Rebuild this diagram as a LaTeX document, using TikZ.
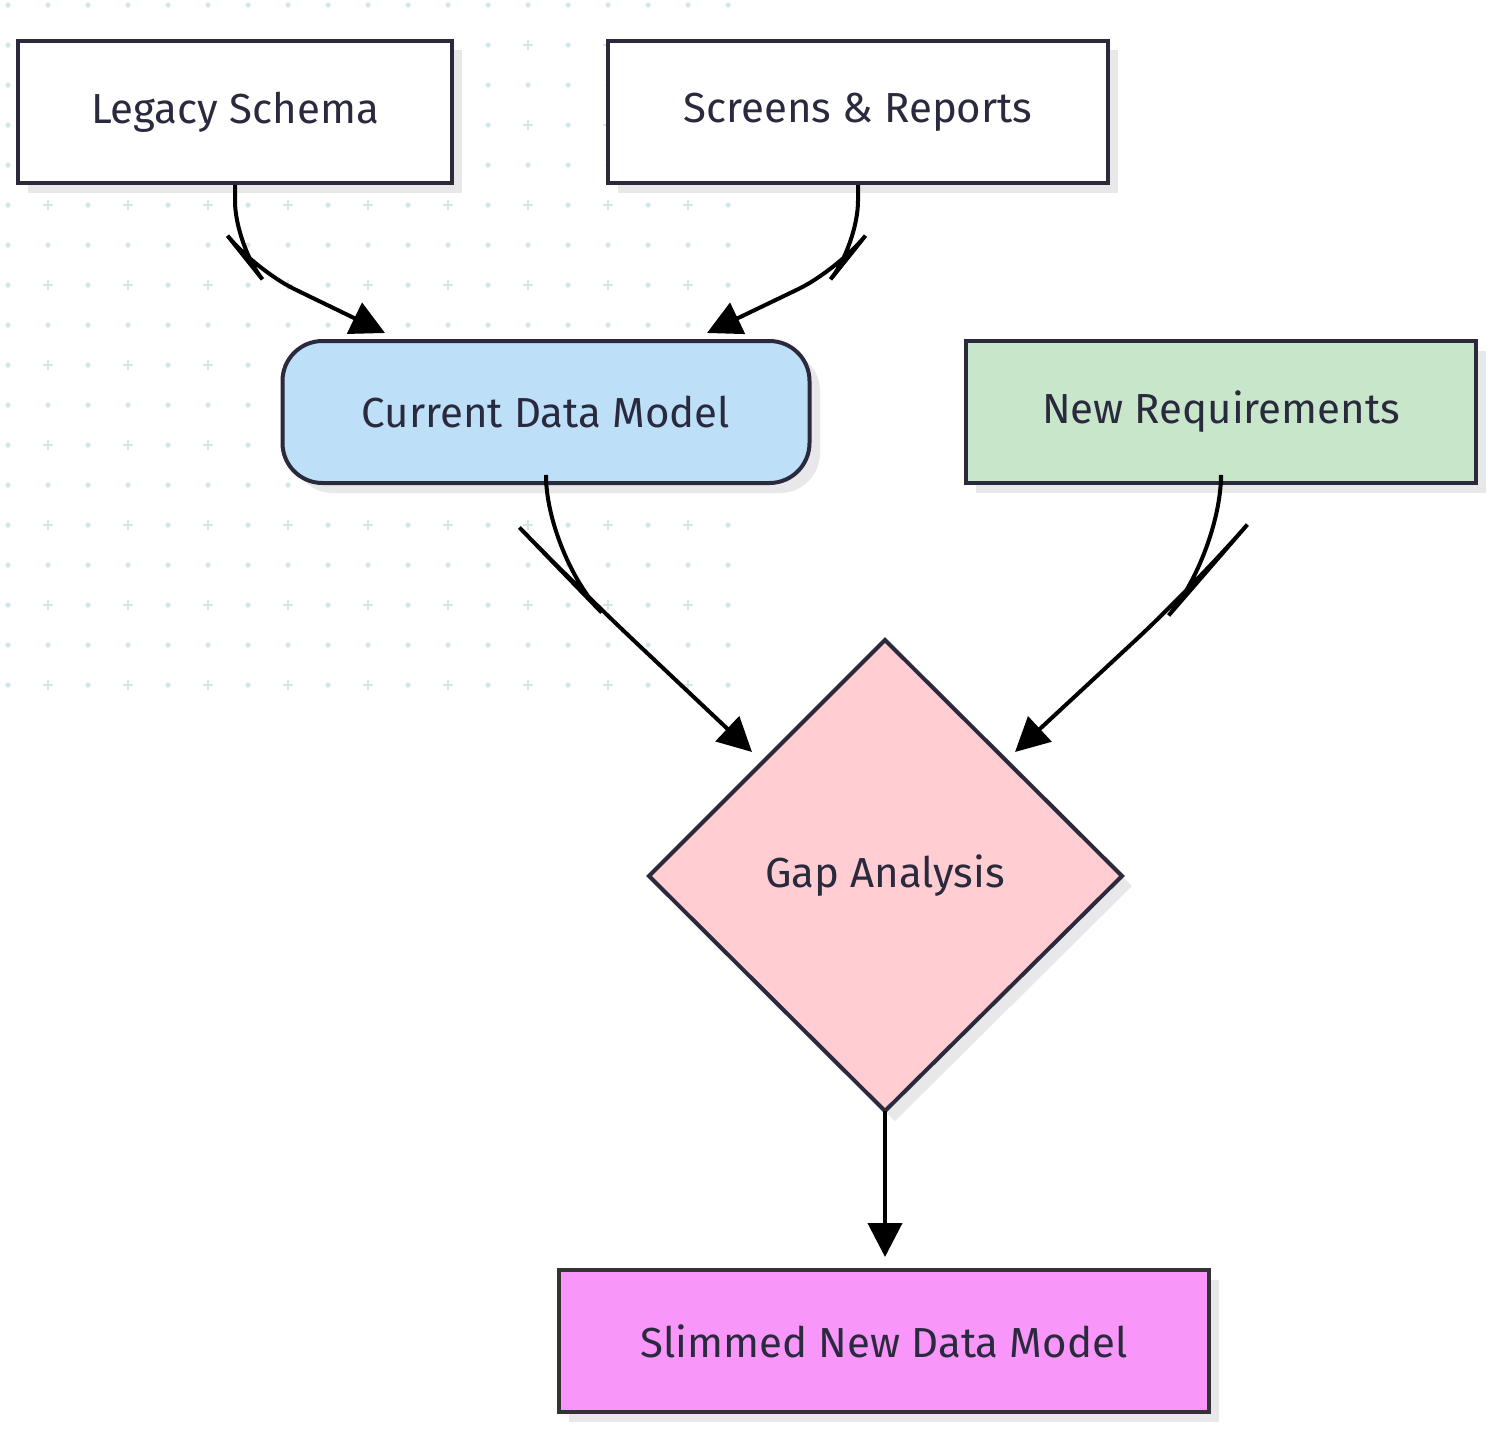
\documentclass[tikz,border=0pt]{standalone}
\usepackage{fontspec}
\setmainfont{Fira Sans}
\usetikzlibrary{shapes.geometric,arrows.meta}
\definecolor{bd}{HTML}{2B2A3C}
\definecolor{bd2}{HTML}{333333}
\definecolor{tx}{HTML}{2A2A3E}
\definecolor{grd}{HTML}{D3E8E8}
\definecolor{shd}{HTML}{E8E8EA}
\definecolor{cdm}{HTML}{BDDFF7}
\definecolor{nrq}{HTML}{C8E6C9}
\definecolor{gap}{HTML}{FFCDD2}
\definecolor{snm}{HTML}{F996F9}
\begin{document}
\begin{tikzpicture}[x=0.5pt,y=-0.5pt,
 box/.style={draw=bd,line width=2pt,minimum width=#1*0.5pt,minimum height=71pt,inner sep=0pt,font=\fontsize{21}{25}\selectfont,text=tx},
 arr/.style={line width=2pt,-{Triangle[length=17pt,width=17pt]},rounded corners=22pt}]
\useasboundingbox (0,0) rectangle (1501,1436);
\fill[white] (0,0) rectangle (1501,1436);
\foreach \i in {0,...,18}{\foreach \j in {0,...,17}{
  \pgfmathsetmacro\xx{8+40*\i}\pgfmathsetmacro\yy{5+40*\j}
  \pgfmathtruncatemacro\p{(mod(\i,2)==1 && mod(\j,2)==1) ? 1 : 0}
  \ifnum\p=1
   \draw[grd,line width=0.8pt] (\xx-5,\yy)--(\xx+5,\yy) (\xx,\yy-5)--(\xx,\yy+5);
  \else \fill[grd] (\xx,\yy) circle (1.3pt);\fi}}
% shadows
\fill[shd] (28,50) rectangle (462,193);
\fill[shd] (618,50) rectangle (1118,193);
\fill[shd,rounded corners=20pt] (293,351) rectangle (820,493);
\fill[shd] (976,351) rectangle (1486,493);
\fill[shd] (895,650)--(1132,886)--(895,1121)--(659,886)--cycle;
\fill[shd] (569,1280) rectangle (1219,1422);
% nodes
\node[box=434,fill=white] (ls) at (235,112) {Legacy Schema};
\node[box=500,fill=white] (sr) at (858,112) {Screens \& Reports};
\node[box=527,fill=cdm,rounded corners=20pt] (cd) at (546,412) {Current Data Model};
\node[box=510,fill=nrq] (nr) at (1221,412) {New Requirements};
\fill[gap,draw=bd,line width=2pt,line join=miter] (885,640)--(1122,876)--(885,1111)--(649,876)--cycle;
\node[text=tx,font=\fontsize{21}{25}\selectfont] (ga) at (885,876) {Gap Analysis};
\node[box=650,fill=snm,draw=bd2] (sn) at (884,1341) {Slimmed New Data Model};
\coordinate (g1) at (752,752);
\coordinate (g2) at (1015,752);
\coordinate (g3) at (885,1111);
\coordinate (g4) at (885,1257);
% arrows
\draw[arr] (ls.south) -- (235,245) -- (255,270) -- (385,333);
\draw[arr] (sr.south) -- (858,245) -- (838,270) -- (707,333);
\draw[arr,rounded corners=40pt] (cd.south) -- (546,555) -- (575,585) -- (g1);
\draw[arr,rounded corners=40pt] (nr.south) -- (1221,555) -- (1195,585) -- (g2);
\draw[arr] (g3) -- (g4);
\end{tikzpicture}
\end{document}
